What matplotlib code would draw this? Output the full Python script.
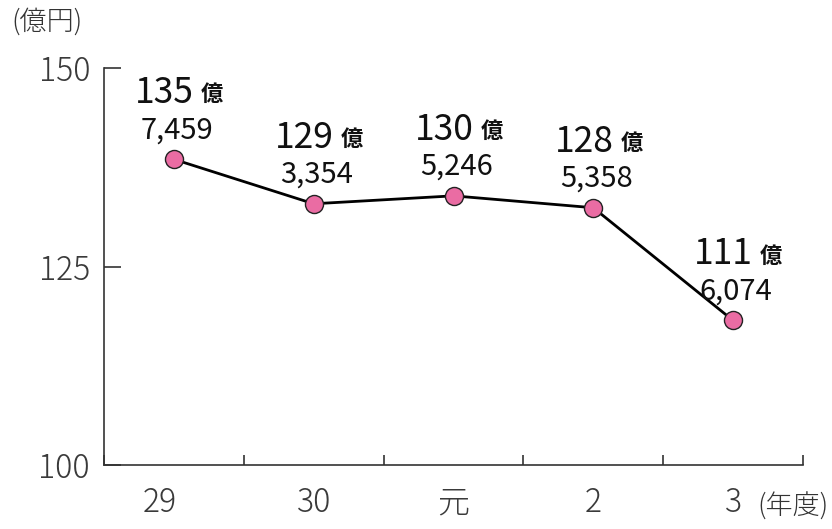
import matplotlib
matplotlib.use("Agg")
import matplotlib.pyplot as plt
from matplotlib.ticker import FixedLocator
from matplotlib.transforms import ScaledTranslation

plt.rcParams['font.family'] = ['Noto Sans CJK JP', 'DejaVu Sans']

years = ["29", "30", "元", "2", "3"]
plot_values = [138.5, 132.9, 133.9, 132.4, 118.2]
label_oku = ["135", "129", "130", "128", "111"]
label_man = ["7,459", "3,354", "5,246", "5,358", "6,074"]
yticks = [100, 125, 150]

fig = plt.figure(figsize=(8.32, 5.29), dpi=100)
ax = fig.add_axes([104/832, 1-465/529, (803-104)/832, (465-68)/529])

x = list(range(len(years)))
ax.plot(x, plot_values, color="black", lw=2, zorder=2,
        marker="o", markersize=13, markerfacecolor="#EA6CA3",
        markeredgecolor="#222222", markeredgewidth=1.0)

ax.set_xlim(-0.5, len(years) - 0.5)
ax.set_ylim(100, 150)

for s in ("top", "right"):
    ax.spines[s].set_visible(False)
for s in ("left", "bottom"):
    ax.spines[s].set_color("#333333")
    ax.spines[s].set_linewidth(1.2)

ax.set_yticks(yticks)
ax.set_yticklabels([str(v) for v in yticks], fontsize=23, color="#3a3a3a",
                   fontweight="light")
ax.tick_params(axis="y", direction="in", length=12, width=1.2, color="#333333", pad=10)

ax.set_xticks(x)
ax.set_xticklabels(years, fontsize=23, color="#3a3a3a", fontweight="light")
ax.tick_params(axis="x", which="major", length=0, pad=15)
ax.xaxis.set_minor_locator(FixedLocator([i + 0.5 for i in range(-1, len(years))]))
ax.tick_params(axis="x", which="minor", direction="in", length=7.5, width=1.2,
               color="#333333")
# first label sits a little left of its category in the reference
first = ax.get_xticklabels()[0]
first.set_transform(first.get_transform() + ScaledTranslation(-14/100, 0, fig.dpi_scale_trans))

for i, (v, a, m) in enumerate(zip(plot_values, label_oku, label_man)):
    ax.annotate(a, (i, v), xytext=(20, 56), textcoords="offset pixels",
                ha="right", va="baseline", fontsize=25.5, color="#111111")
    ax.annotate("億", (i, v), xytext=(27, 58), textcoords="offset pixels",
                ha="left", va="baseline", fontsize=16, fontweight="bold",
                color="#111111")
    ax.annotate(m, (i, v), xytext=(3, 21), textcoords="offset pixels",
                ha="center", va="baseline", fontsize=21, color="#111111")

fig.text(11/832, 1-22/529, "(億円)", fontsize=19.5, color="#333333",
         ha="left", va="center", fontweight="light")
fig.text(757/832, 1-507/529, "(年度)", fontsize=19.5, color="#333333",
         ha="left", va="center", fontweight="light")

fig.savefig("out.png", dpi=100)
